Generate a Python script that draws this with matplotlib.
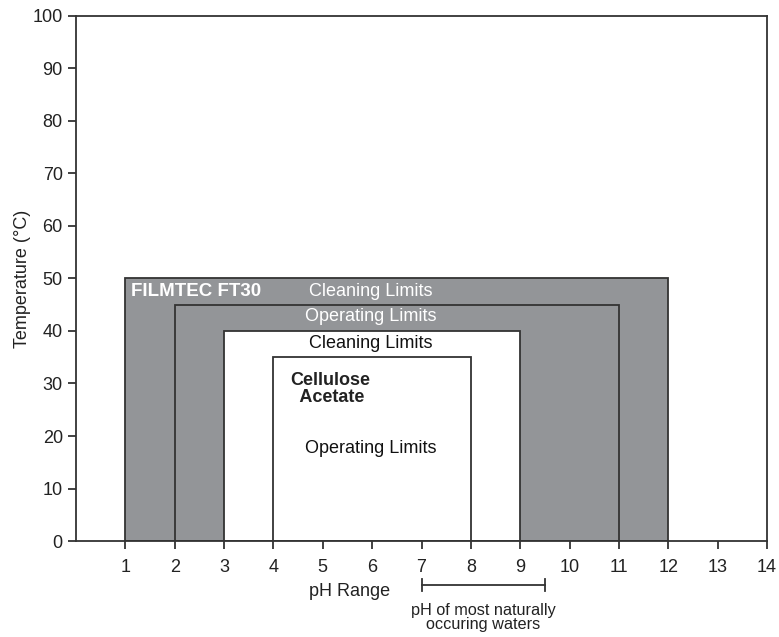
import matplotlib
matplotlib.use("Agg")
import matplotlib.pyplot as plt
from matplotlib.patches import Rectangle

plt.rcParams['font.family'] = ['Liberation Sans', 'DejaVu Sans']

# Limit boxes: (pH min, pH max, max temperature)
box_ph_min = [1, 2, 3, 4]
box_ph_max = [12, 11, 9, 8]
box_temp_max = [50, 45, 40, 35]
box_fill = ['#939598', '#939598', 'white', 'white']

natural_ph = [7, 9.5]
x_ticks = list(range(1, 15))
y_ticks = list(range(0, 101, 10))

fig = plt.figure(figsize=(7.79, 6.37), dpi=100)
ax = fig.add_axes([0.0976, 0.1507, 0.887, 0.8242])
ax.set_xlim(0, 14)
ax.set_ylim(0, 100)

edge = '#333333'
for x0, x1, t, c in zip(box_ph_min, box_ph_max, box_temp_max, box_fill):
    ax.add_patch(Rectangle((x0, 0), x1 - x0, t, facecolor=c, edgecolor=edge, linewidth=1.3, zorder=2))

ax.set_xticks(x_ticks)
ax.set_yticks(y_ticks)
ax.tick_params(axis='both', direction='out', length=6, width=1.3, color=edge, labelsize=13, labelcolor='#222222')
ax.tick_params(axis='x', pad=7)
for s in ax.spines.values():
    s.set_color(edge)
    s.set_linewidth(1.3)
    s.set_zorder(3)

ax.set_ylabel('Temperature (°C)', fontsize=13, color='#222222', labelpad=1)

fs = 13
ax.text(1.12, 47.5, 'FILMTEC FT30', color='white', fontsize=13.5, fontweight='bold', va='center', ha='left', zorder=4)
ax.text(5.98, 47.5, 'Cleaning Limits', color='white', fontsize=fs, va='center', ha='center', zorder=4)
ax.text(5.98, 42.7, 'Operating Limits', color='white', fontsize=fs, va='center', ha='center', zorder=4)
ax.text(5.98, 37.7, 'Cleaning Limits', color='#111111', fontsize=fs, va='center', ha='center', zorder=4)
ax.text(4.34, 29.0, 'Cellulose\n  Acetate', color='#222222', fontsize=fs, fontweight='bold', va='center', ha='left', linespacing=1.0, zorder=4)
ax.text(5.98, 17.7, 'Operating Limits', color='#111111', fontsize=fs, va='center', ha='center', zorder=4)

# x label and natural pH bracket (below axes)
ax.text(5.55, -9.6, 'pH Range', fontsize=13, color='#222222', ha='center', va='center', clip_on=False)
yb = -8.4
ax.plot(natural_ph, [yb, yb], color=edge, lw=1.3, clip_on=False)
for xv in natural_ph:
    ax.plot([xv, xv], [yb - 1.1, yb + 1.1], color=edge, lw=1.3, clip_on=False)
ax.text(8.25, -14.6, 'pH of most naturally\noccuring waters', fontsize=11.7, color='#222222',
        ha='center', va='center', linespacing=0.95, clip_on=False)

fig.savefig('out.png', dpi=100)
